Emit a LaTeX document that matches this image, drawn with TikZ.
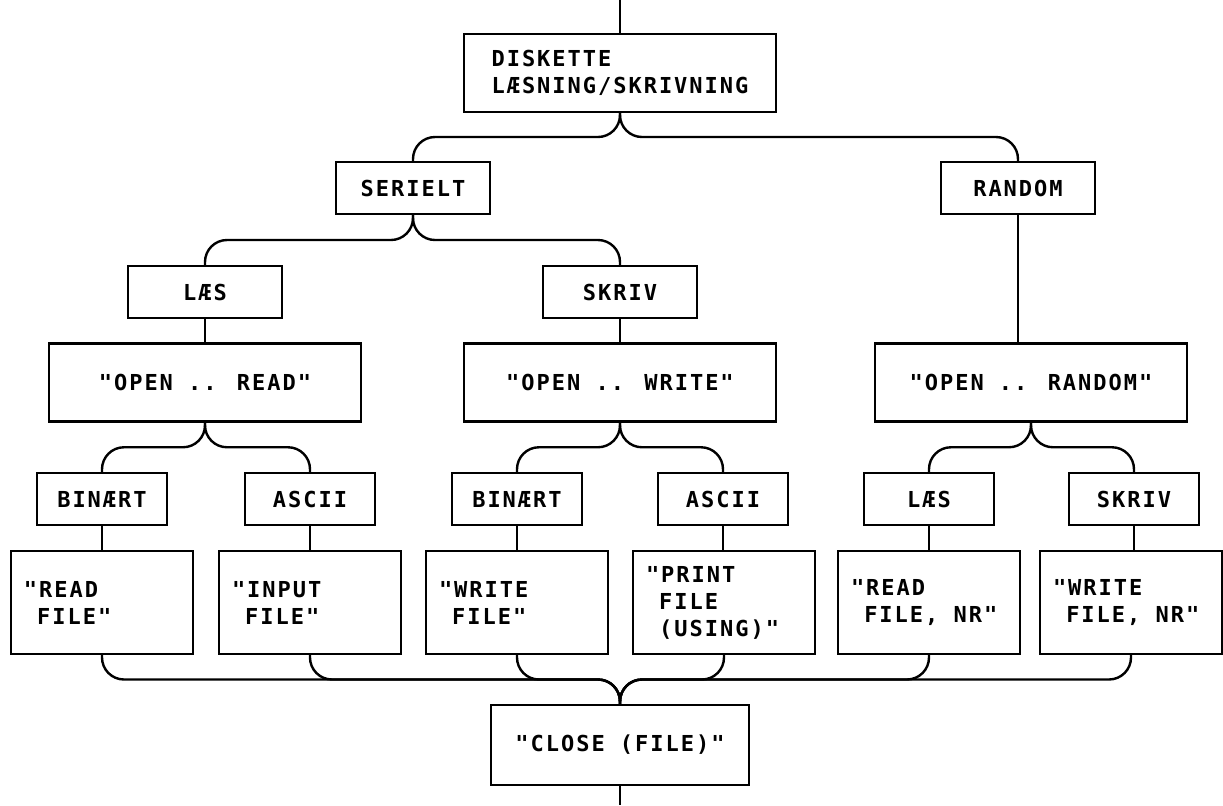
\documentclass[tikz,border=0pt]{standalone}
\usepackage{fontspec}
\newfontfamily\plotfont[LetterSpace=9]{DejaVu Sans Mono}
\usetikzlibrary{calc}

\begin{document}
\begin{tikzpicture}[x=0.5pt,y=-0.5pt,line width=1.2pt,
  box/.style={draw,align=left,font=\plotfont\bfseries\fontsize{11}{13.5}\selectfont},
  wide/.style={box,minimum width=156pt,minimum height=39pt},
  head/.style={box,minimum width=77pt,minimum height=26pt},
  tag/.style={box,minimum width=65pt,minimum height=26pt},
  leaf/.style={box,inner xsep=6.5pt,text width=78pt,minimum height=51.5pt}]
\useasboundingbox (0,0) rectangle (1223,805);
\coordinate (top) at (620,0);
\coordinate (bot) at (620,805);
% top of the tree
\node[wide](disk) at (620,73){DISKETTE\\LÆSNING/SKRIVNING};
\node[head](seri) at (413,188){SERIELT};
\node[head](rand) at (1018,188){RANDOM};
\node[head](las1) at (205,292){LÆS};
\node[head](skr1) at (620,292){SKRIV};
% open statements
\node[wide](opr) at (205,382.5){"OPEN .. READ"};
\node[wide](opw) at (620,382.5){"OPEN .. WRITE"};
\node[wide](opra) at (1031,382.5){"OPEN .. RANDOM"};
% file types
\node[tag](bin1) at (102,499){BINÆRT};
\node[tag](asc1) at (310,499){ASCII};
\node[tag](bin2) at (517,499){BINÆRT};
\node[tag](asc2) at (723,499){ASCII};
\node[tag](las2) at (929,499){LÆS};
\node[tag](skr2) at (1134,499){SKRIV};
% statements
\node[leaf](rf) at (102,602.5){"READ\\\hphantom{"}FILE"};
\node[leaf](inf) at (310,602.5){"INPUT\\\hphantom{"}FILE"};
\node[leaf](wf) at (517,602.5){"WRITE\\\hphantom{"}FILE"};
\node[leaf](pf) at (724,602.5){"PRINT\\\hphantom{"}FILE\\\hphantom{"}(USING)"};
\node[leaf](rfn) at (929,602.5){"READ\\\hphantom{"}FILE,\hspace{7.6pt}NR"};
\node[leaf](wfn) at (1131,602.5){"WRITE\\\hphantom{"}FILE,\hspace{7.6pt}NR"};
\node[box,minimum width=129pt,minimum height=40pt](close) at (620,745){"CLOSE (FILE)"};

\draw (top) -- (disk);
\foreach \p/\c in {disk/seri,disk/rand,seri/las1,seri/skr1,opr/bin1,opr/asc1,opw/bin2,opw/asc2,opra/las2,opra/skr2}
  \draw[rounded corners=11pt] (\p.south) |- ($(\p.south)!.5!(\c.north)$) -| (\c.north);
\foreach \a/\b in {las1/opr,skr1/opw,bin1/rf,asc1/inf,bin2/wf,asc2/pf,las2/rfn,skr2/wfn,rand/opra}
  \draw (\a.south) -- (\a.south |- \b.north);
\foreach \c in {rf,inf,wf,pf,rfn,wfn}
  \draw[rounded corners=11pt] (\c.south) |- ($(\c.south)!.5!(close.north)$) -| (close.north);
\draw (close) -- (bot);
\end{tikzpicture}
\end{document}
